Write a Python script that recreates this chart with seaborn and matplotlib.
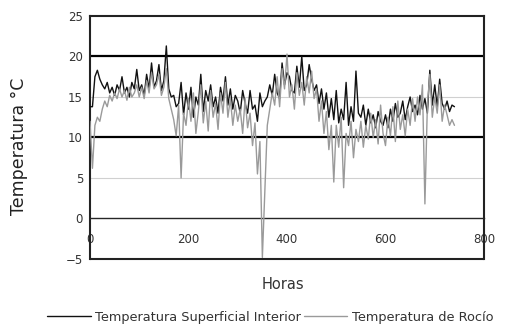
import numpy as np
import pandas as pd
import matplotlib
matplotlib.use("Agg")
import matplotlib.pyplot as plt
import seaborn as sns

horas = list(range(0, 745, 5))

t_superficial = [
    13.8, 13.8, 17.5, 18.3, 17.2, 16.5, 16.0, 16.8, 15.5, 16.2,
    15.2, 16.5, 15.8, 17.5, 15.5, 16.2, 15.0, 16.8, 16.0, 18.4,
    15.8, 16.5, 15.2, 17.8, 16.0, 19.2, 16.2, 17.0, 19.0, 15.8,
    17.0, 21.3, 16.0, 15.0, 15.2, 13.8, 14.2, 16.8, 12.8, 15.5,
    13.5, 16.2, 12.5, 15.0, 14.0, 17.8, 13.2, 15.8, 14.5, 16.5,
    13.8, 15.0, 13.0, 16.2, 14.5, 17.5, 14.0, 16.0, 13.5, 15.2,
    14.5, 13.0, 15.8, 14.2, 13.0, 15.8, 13.5, 14.0, 12.0, 15.5,
    13.8, 14.5, 15.0, 16.5, 15.2, 17.8, 15.5, 14.8, 19.2, 16.5,
    18.0, 17.5, 15.8, 15.5, 18.8, 16.2, 20.0, 15.8, 16.5, 19.0,
    17.2, 15.8, 16.5, 14.2, 16.0, 13.5, 15.5, 12.5, 14.8, 12.2,
    15.8, 11.8, 13.5, 12.2, 16.8, 11.5, 13.8, 12.0, 18.2, 13.0,
    12.5, 14.0, 11.5, 13.5, 11.8, 12.8, 11.2, 13.2, 12.0, 11.5,
    12.8, 11.2, 13.5, 12.0, 14.2, 12.5, 13.0, 14.5, 12.2, 13.8,
    15.0, 13.2, 14.0, 12.8, 15.2, 13.5, 14.8, 13.0, 18.3, 14.0,
    16.5, 13.8, 17.2, 14.2, 13.5, 14.5, 13.2, 14.0, 13.8,
]

t_rocio = [
    12.0, 6.2, 11.5, 12.5, 12.0, 13.5, 14.5, 13.8, 15.2, 14.5,
    15.5, 14.8, 16.0, 15.0, 15.8, 14.6, 16.2, 15.0, 15.5, 16.5,
    15.0, 16.2, 14.8, 17.0, 15.5, 18.0, 16.0, 16.5, 17.8, 15.2,
    16.2, 18.5, 14.8, 13.5, 12.2, 10.2, 14.0, 5.0, 13.0, 11.5,
    14.8, 12.0, 15.5, 10.5, 13.2, 16.5, 11.8, 14.5, 10.8, 15.8,
    12.5, 14.2, 11.0, 15.5, 13.0, 16.8, 12.5, 14.8, 11.5, 14.0,
    12.0, 13.5, 10.5, 14.8, 11.2, 13.0, 9.0, 11.8, 5.5, 9.5,
    -4.8, 3.5, 11.5, 13.5, 15.5, 14.0, 17.5, 13.8, 18.5, 16.0,
    20.3, 15.0, 16.5, 13.5, 18.0, 15.2, 16.8, 14.0, 17.5, 15.5,
    18.2, 14.8, 16.0, 12.0, 14.5, 10.5, 13.2, 8.5, 11.5, 4.5,
    11.5, 8.8, 12.5, 3.8, 10.5, 9.0, 12.0, 7.5, 11.0, 9.5,
    12.0, 8.8, 11.5, 9.8, 13.0, 10.0, 12.2, 9.2, 14.0, 10.5,
    9.0, 12.5, 10.2, 13.8, 9.5, 14.5, 11.0, 12.8, 10.2, 13.5,
    11.5, 14.8, 12.0, 15.0, 12.8, 16.5, 1.8, 14.0, 17.8, 12.5,
    15.0, 13.0, 16.5, 12.0, 14.0, 12.8, 11.5, 12.2, 11.5,
]

series_names = ["Temperatura Superficial Interior", "Temperatura de Rocío"]
y_ticks = [-5, 0, 5, 10, 15, 20, 25]
x_ticks = [0, 200, 400, 600, 800]

df = pd.concat([
    pd.DataFrame({"Horas": horas, "Temp": t_superficial, "Serie": series_names[0]}),
    pd.DataFrame({"Horas": horas, "Temp": t_rocio, "Serie": series_names[1]}),
])

sns.set_style("white")
plt.rcParams["font.family"] = ["DejaVu Sans"]

fig = plt.figure(figsize=(5.13, 3.25), dpi=100)
ax = fig.add_axes([0.1754, 0.2031, 0.7681, 0.7477])

# gridlines: strong at 10/20, faint at 5/15
for y in [10, 20]:
    ax.axhline(y, color="black", lw=1.6, zorder=1)
for y in [5, 15]:
    ax.axhline(y, color="#d0d0d0", lw=0.8, zorder=1)

sns.lineplot(data=df, x="Horas", y="Temp", hue="Serie", hue_order=series_names,
             palette=["#111111", "#9a9a9a"], lw=1.0, ax=ax, legend=True, zorder=3)

ax.set_xlim(0, 800)
ax.set_ylim(-5, 25)
ax.set_yticks(y_ticks)
ax.set_xticks(x_ticks)
ax.set_xticklabels([str(v) for v in x_ticks])

# x axis crosses at 0, frame drawn around the full plot area
ax.spines["bottom"].set_position(("data", 0))
ax.spines["bottom"].set_linewidth(1.0)
for s in ["left", "right", "top"]:
    ax.spines[s].set_linewidth(1.5)
    ax.spines[s].set_color("#222222")
ax.axhline(-5, color="#222222", lw=1.5, clip_on=False, zorder=4)

ax.tick_params(axis="y", direction="out", length=3, width=1, labelsize=8.5,
               colors="#333333", pad=2)
ax.tick_params(axis="x", direction="inout", length=3, width=1.2, labelsize=8.5,
               colors="#333333", pad=9)

ax.set_xlabel("Horas", fontsize=10.5, color="#333333")
ax.xaxis.set_label_coords(0.49, -0.075)
ax.set_ylabel("Temperatura °C", fontsize=12.5, color="#222222")
ax.yaxis.set_label_coords(-0.158, 0.465)

ax.legend(loc="center", bbox_to_anchor=(0.457, -0.239), ncol=2, frameon=False,
          fontsize=9.3, handlelength=3.4, columnspacing=0.2, handletextpad=0.35,
          labelcolor="#333333")

fig.savefig("out.png", dpi=100)
